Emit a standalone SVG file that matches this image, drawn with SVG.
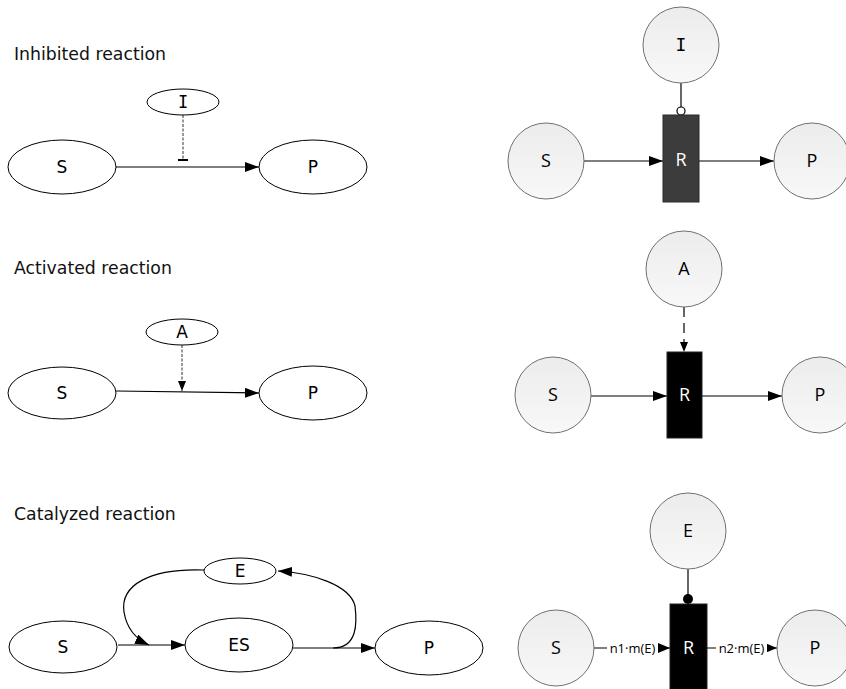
<svg xmlns="http://www.w3.org/2000/svg" width="846" height="689" viewBox="0 0 846 689">
  <style>
    .title { font-family: "DejaVu Sans", Verdana, sans-serif; font-size: 17.3px; fill: #111; }
    .ell { fill: #fff; stroke: #000; stroke-width: 1; }
    .lbl { font-family: "DejaVu Sans", Verdana, sans-serif; font-size: 17px; fill: #000; text-anchor: middle; }
    .lblI { font-family: "DejaVu Sans Mono", monospace; font-size: 17px; fill: #000; text-anchor: middle; }
    .lblIc { font-family: "DejaVu Sans Mono", monospace; font-size: 18px; fill: #000; text-anchor: middle; }
    .circ { fill: url(#g); stroke: #707070; stroke-width: 1; }
    .clbl { font-family: "Open Sans", "Segoe UI", sans-serif; font-size: 18px; fill: #000; text-anchor: middle; }
    .rlbl { font-family: "Open Sans", "Segoe UI", sans-serif; font-size: 18px; fill: #fff; text-anchor: middle; }
    .elbl { font-family: "Open Sans", "Segoe UI", sans-serif; font-size: 13px; fill: #000; text-anchor: middle; }
    .e { fill: none; stroke: #000; stroke-width: 1.2; }
    .dash { fill: none; stroke: #333; stroke-width: 1; stroke-dasharray: 3 1.5; }
    .dash2 { fill: none; stroke: #000; stroke-width: 1.2; stroke-dasharray: 10 6; }
  </style>
  <defs>
    <linearGradient id="g" x1="0" y1="0" x2="0" y2="1">
      <stop offset="0" stop-color="#ececec"/>
      <stop offset="1" stop-color="#f8f8f8"/>
    </linearGradient>
    <marker id="arr" markerUnits="userSpaceOnUse" markerWidth="16" markerHeight="12" refX="14" refY="5" orient="auto">
      <path d="M0,0 L14,5 L0,10 Z" fill="#000"/>
    </marker>
    <marker id="arrS" markerUnits="userSpaceOnUse" markerWidth="12" markerHeight="10" refX="10" refY="4" orient="auto">
      <path d="M0,0 L10,4 L0,8 Z" fill="#000"/>
    </marker>
    <marker id="arrM" markerUnits="userSpaceOnUse" markerWidth="14" markerHeight="12" refX="12" refY="5" orient="auto">
      <path d="M0,0 L12,5 L0,10 Z" fill="#000"/>
    </marker>
  </defs>

  <!-- section titles -->
  <text class="title" x="14" y="60">Inhibited reaction</text>
  <text class="title" x="14" y="274">Activated reaction</text>
  <text class="title" x="14" y="520">Catalyzed reaction</text>

  <!-- connectors -->
  <g id="connectors">
    <!-- inhibited (left) -->
    <line class="e" x1="116" y1="167" x2="259" y2="167" marker-end="url(#arr)"/>
    <line class="dash" x1="183" y1="115" x2="183" y2="159"/>
    <line x1="178" y1="160" x2="188" y2="160" stroke="#000" stroke-width="2"/>
    <!-- activated (left) -->
    <line class="e" x1="116" y1="391" x2="259" y2="393" marker-end="url(#arr)"/>
    <line class="dash" x1="182" y1="345" x2="182" y2="391" marker-end="url(#arrS)"/>
    <!-- catalyzed (left) -->
    <line class="e" x1="118" y1="645" x2="185" y2="645" marker-end="url(#arr)"/>
    <path class="e" d="M204,570 C150,568 120,585 124,612 C127,630 138,640 149,645" marker-end="url(#arr)"/>
    <line class="e" x1="293" y1="648" x2="375" y2="648" marker-end="url(#arr)"/>
    <path class="e" d="M333,648 C358,648 357,622 355,606 C350,585 312,573 278,571" marker-end="url(#arr)"/>

    <!-- inhibited (right) -->
    <line class="e" x1="584" y1="161" x2="663" y2="161" marker-end="url(#arr)"/>
    <line class="e" x1="699" y1="161" x2="774" y2="161" marker-end="url(#arr)"/>
    <line class="e" x1="681" y1="83" x2="681" y2="107"/>
    <circle cx="681" cy="111" r="4" fill="#fff" stroke="#000" stroke-width="1.2"/>
    <!-- activated (right) -->
    <line class="e" x1="591" y1="396" x2="667" y2="396" marker-end="url(#arr)"/>
    <line class="e" x1="702" y1="396" x2="782" y2="396" marker-end="url(#arr)"/>
    <line class="dash2" x1="684" y1="307" x2="684" y2="352" marker-end="url(#arrS)"/>
    <!-- catalyzed (right) -->
    <line class="e" x1="594" y1="648" x2="670" y2="648" marker-end="url(#arrM)"/>
    <line class="e" x1="707" y1="648" x2="777" y2="648" marker-end="url(#arrM)"/>
    <line class="e" x1="688" y1="569" x2="688" y2="595"/>
    <circle cx="688" cy="599" r="5" fill="#000"/>
    <rect x="607" y="639" width="51" height="18" fill="#fff"/>
    <text class="elbl" x="632.5" y="653">n1·m(E)</text>
    <rect x="716" y="639" width="51" height="18" fill="#fff"/>
    <text class="elbl" x="741.5" y="653">n2·m(E)</text>
  </g>

  <!-- inhibited reaction, ellipse notation -->
  <g id="inh-S"><ellipse class="ell" cx="62" cy="167" rx="54" ry="27"/><text class="lbl" x="62" y="173">S</text></g>
  <g id="inh-P"><ellipse class="ell" cx="313" cy="167" rx="54" ry="27"/><text class="lbl" x="313" y="173">P</text></g>
  <g id="inh-I"><ellipse class="ell" cx="183" cy="102" rx="36" ry="13"/><text class="lblI" x="183" y="108">I</text></g>

  <!-- activated reaction, ellipse notation -->
  <g id="act-S"><ellipse class="ell" cx="62" cy="393" rx="54" ry="26"/><text class="lbl" x="62" y="399">S</text></g>
  <g id="act-P"><ellipse class="ell" cx="313" cy="393" rx="54" ry="27"/><text class="lbl" x="313" y="399">P</text></g>
  <g id="act-A"><ellipse class="ell" cx="182" cy="332" rx="36" ry="13"/><text class="lbl" x="182" y="338">A</text></g>

  <!-- catalyzed reaction, ellipse notation -->
  <g id="cat-S"><ellipse class="ell" cx="63" cy="647" rx="54" ry="26"/><text class="lbl" x="63" y="653">S</text></g>
  <g id="cat-ES"><ellipse class="ell" cx="239" cy="645" rx="54" ry="27"/><text class="lbl" x="239" y="651">ES</text></g>
  <g id="cat-P"><ellipse class="ell" cx="429" cy="648" rx="54" ry="27"/><text class="lbl" x="429" y="654">P</text></g>
  <g id="cat-E"><ellipse class="ell" cx="240" cy="571" rx="36" ry="13"/><text class="lbl" x="240" y="577">E</text></g>

  <!-- inhibited reaction, Petri notation -->
  <g id="pn-inh-I"><circle class="circ" cx="681" cy="45" r="38"/><text class="lblIc" x="681" y="51">I</text></g>
  <g id="pn-inh-S"><circle class="circ" cx="546" cy="161" r="38"/><text class="clbl" x="546" y="167">S</text></g>
  <g id="pn-inh-P"><circle class="circ" cx="812" cy="161" r="38"/><text class="clbl" x="812" y="167">P</text></g>
  <g id="pn-inh-R"><rect x="663" y="115" width="36" height="87" fill="#3c3c3c" stroke="#2a2a2a"/><text class="rlbl" x="681" y="166">R</text></g>

  <!-- activated reaction, Petri notation -->
  <g id="pn-act-A"><circle class="circ" cx="684" cy="269" r="38"/><text class="clbl" x="684" y="275">A</text></g>
  <g id="pn-act-S"><circle class="circ" cx="553" cy="395" r="38"/><text class="clbl" x="553" y="401">S</text></g>
  <g id="pn-act-P"><circle class="circ" cx="820" cy="395" r="38"/><text class="clbl" x="820" y="401">P</text></g>
  <g id="pn-act-R"><rect x="667" y="352" width="35" height="86" fill="#000" stroke="#222"/><text class="rlbl" x="684.5" y="401">R</text></g>

  <!-- catalyzed reaction, Petri notation -->
  <g id="pn-cat-E"><circle class="circ" cx="688" cy="531" r="38"/><text class="clbl" x="688" y="537">E</text></g>
  <g id="pn-cat-S"><circle class="circ" cx="556" cy="648" r="38"/><text class="clbl" x="556" y="654">S</text></g>
  <g id="pn-cat-P"><circle class="circ" cx="815" cy="648" r="38"/><text class="clbl" x="815" y="654">P</text></g>
  <g id="pn-cat-R"><rect x="670" y="604" width="37" height="90" fill="#000" stroke="#222"/><text class="rlbl" x="688.5" y="654">R</text></g>
</svg>
